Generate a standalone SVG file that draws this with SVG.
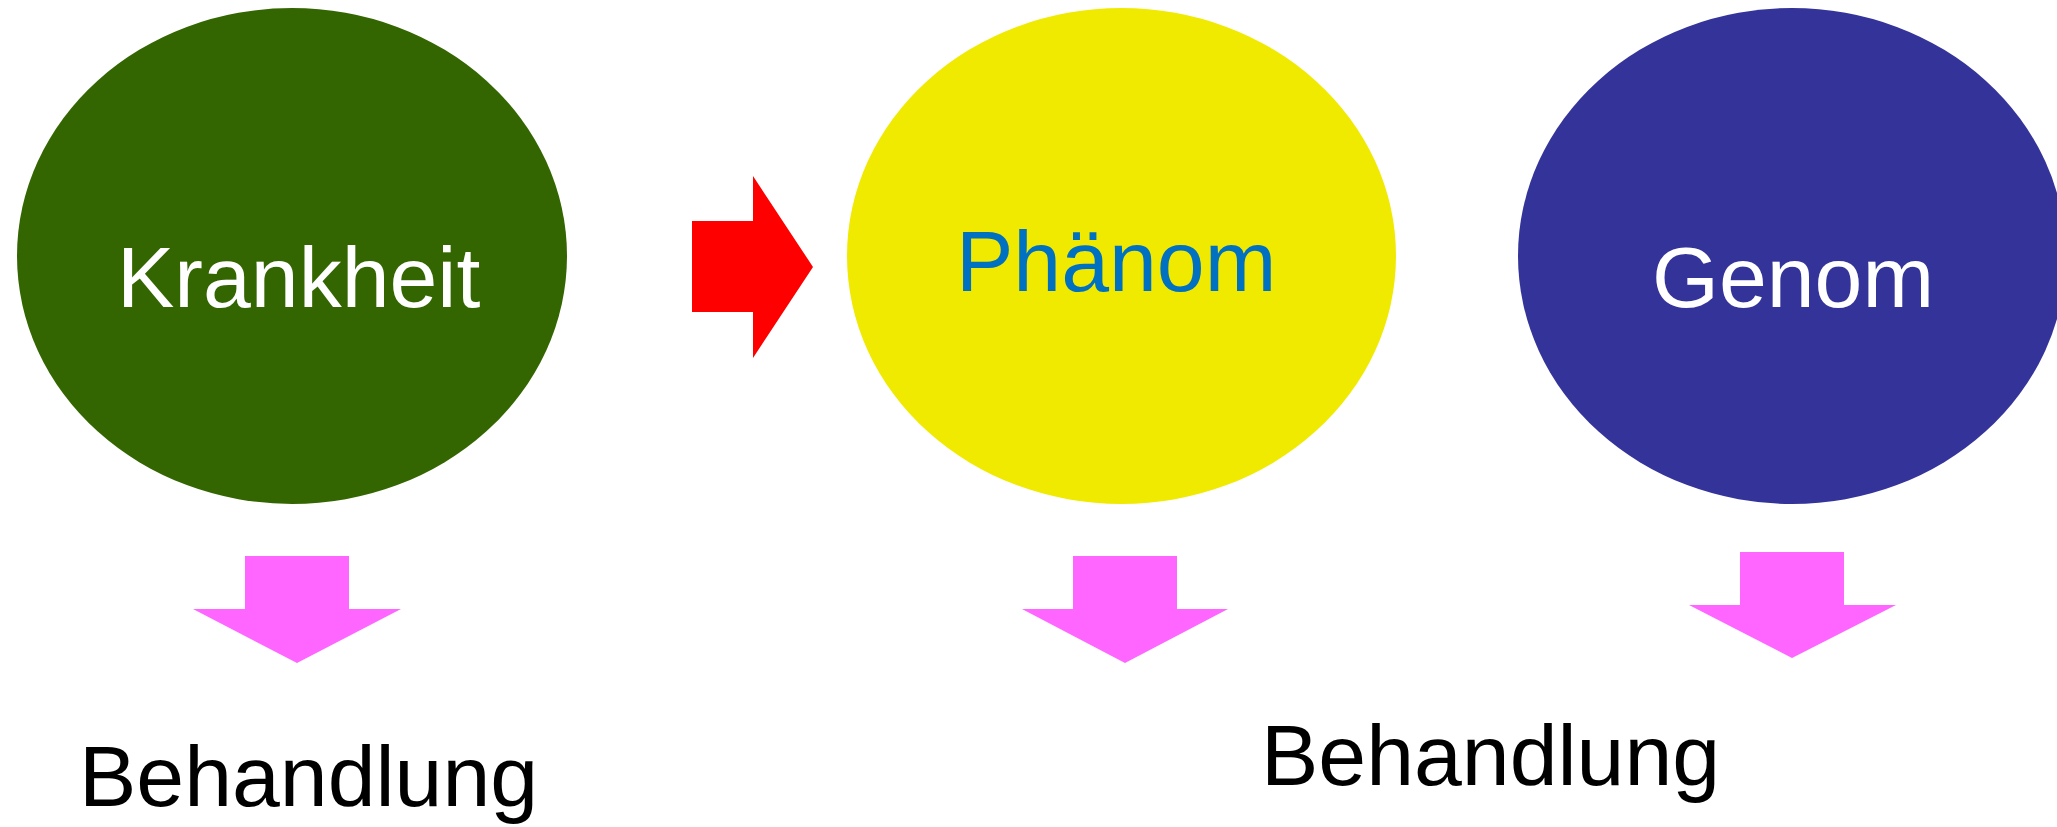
<svg xmlns="http://www.w3.org/2000/svg" width="2057" height="827" viewBox="0 0 2057 827">
<style>
.lbl{font-family:"Liberation Sans",Arial,sans-serif;font-size:86px}
.down{fill:#FF66FF}
</style>
<rect width="2057" height="827" fill="#FFFFFF"/>
<g id="krankheit">
<ellipse cx="292" cy="256" rx="275" ry="248" fill="#336600"/>
<text class="lbl" x="117" y="307" fill="#FFFFFF">Krankheit</text>
</g>
<g id="phaenom">
<ellipse cx="1121.5" cy="256" rx="274.5" ry="248" fill="#F0EA00"/>
<text class="lbl" x="956" y="291" fill="#0070C0">Phänom</text>
</g>
<g id="genom">
<ellipse cx="1792" cy="256" rx="274" ry="248" fill="#333399"/>
<text class="lbl" x="1652" y="307" fill="#FFFFFF">Genom</text>
</g>
<g id="behandlung1">
<text class="lbl" x="79" y="806" fill="#000000">Behandlung</text>
</g>
<g id="behandlung2">
<text class="lbl" x="1261" y="785" fill="#000000">Behandlung</text>
</g>
<g id="connectors">
<polygon points="692,221 753,221 753,176 813,267 753,358 753,312 692,312" fill="#FF0000"/>
<polygon class="down" points="245,556 349,556 349,609 401,609 297,663 193,609 245,609"/>
<polygon class="down" points="1073,556 1177,556 1177,609 1228,609 1125,663 1022,609 1073,609"/>
<polygon class="down" points="1740,552 1844,552 1844,605 1896,605 1792,658 1689,605 1740,605"/>
</g>
</svg>
